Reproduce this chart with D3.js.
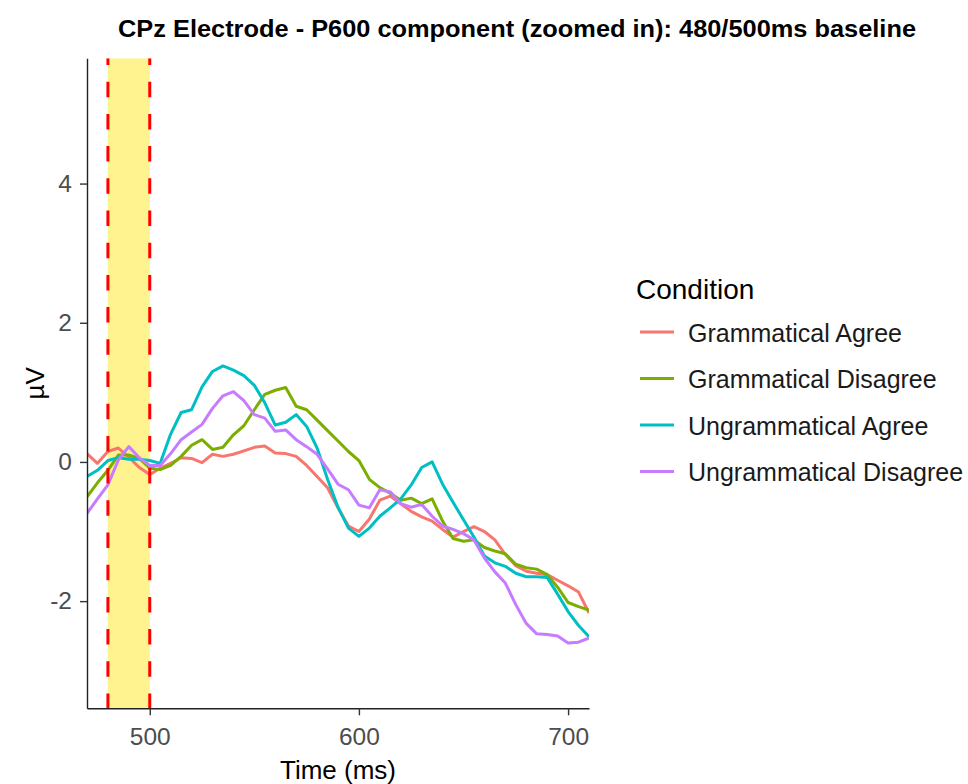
<!DOCTYPE html>
<html>
<head>
<meta charset="utf-8">
<script src="https://cdn.jsdelivr.net/npm/d3@7"></script>
<style>
  html, body { margin: 0; padding: 0; background: #fff; }
  svg { display: block; }
  text { font-family: "Liberation Sans", Arial, sans-serif; }
</style>
</head>
<body>
<svg id="chart" width="968" height="784"></svg>
<script>
// Sample times (ms) shared by all four grand-average waveforms
const times = [470, 475, 480, 485, 490, 495, 500, 505, 510, 515, 520, 525, 530, 535, 540, 545,
  550, 555, 560, 565, 570, 575, 580, 585, 590, 595, 600, 605, 610, 615, 620, 625, 630, 635,
  640, 645, 650, 655, 660, 665, 670, 675, 680, 685, 690, 695, 700, 705, 710];

// Mean amplitude (µV) per condition at CPz
const grammaticalAgree = [0.12, -0.02, 0.15, 0.20, 0.07, -0.08, -0.18, -0.09, -0.02, 0.06, 0.05, -0.01,
  0.11, 0.08, 0.11, 0.16, 0.21, 0.23, 0.13, 0.12, 0.08, -0.05, -0.21, -0.37, -0.66, -0.92, -1.00,
  -0.82, -0.55, -0.49, -0.60, -0.71, -0.79, -0.85, -0.97, -1.08, -1.00, -0.93, -1.00, -1.12, -1.33,
  -1.49, -1.57, -1.60, -1.62, -1.70, -1.78, -1.87, -2.17];
const grammaticalDisagree = [-0.50, -0.30, -0.12, 0.10, 0.10, 0.05, -0.09, -0.11, -0.05, 0.08, 0.24,
  0.32, 0.18, 0.21, 0.39, 0.52, 0.75, 0.97, 1.03, 1.07, 0.80, 0.75, 0.60, 0.45, 0.30, 0.15, 0.02,
  -0.25, -0.37, -0.45, -0.55, -0.52, -0.60, -0.53, -0.85, -1.10, -1.14, -1.12, -1.23, -1.28, -1.32,
  -1.47, -1.52, -1.54, -1.62, -1.80, -2.02, -2.08, -2.13];
const ungrammaticalAgree = [-0.21, -0.12, 0.02, 0.06, 0.04, 0.04, 0.02, -0.02, 0.40, 0.71, 0.75, 1.08,
  1.30, 1.38, 1.32, 1.24, 1.10, 0.85, 0.53, 0.57, 0.68, 0.51, 0.20, -0.25, -0.65, -0.95, -1.07,
  -0.95, -0.78, -0.66, -0.53, -0.33, -0.08, 0.00, -0.32, -0.58, -0.83, -1.08, -1.35, -1.45, -1.50,
  -1.60, -1.65, -1.65, -1.66, -1.90, -2.15, -2.35, -2.51];
const ungrammaticalDisagree = [-0.74, -0.53, -0.33, 0.03, 0.22, 0.06, -0.05, -0.05, 0.12, 0.32, 0.43,
  0.54, 0.77, 0.95, 1.01, 0.88, 0.68, 0.63, 0.44, 0.46, 0.32, 0.22, 0.11, -0.10, -0.32, -0.40, -0.62,
  -0.66, -0.40, -0.43, -0.60, -0.65, -0.61, -0.78, -0.92, -0.97, -1.03, -1.12, -1.38, -1.58, -1.74,
  -2.05, -2.32, -2.47, -2.48, -2.50, -2.60, -2.59, -2.53];

const conditions = ["Grammatical Agree", "Grammatical Disagree", "Ungrammatical Agree", "Ungrammatical Disagree"];
const colors = ["#F8766D", "#7CAE00", "#00BFC4", "#C77CFF"];
const seriesValues = [grammaticalAgree, grammaticalDisagree, ungrammaticalAgree, ungrammaticalDisagree];

const xTicks = [500, 600, 700];
const yTicks = [-2, 0, 2, 4];
const baselineWindow = [480, 500];
const xDomain = [470, 710];
const yDomain = [-3.54, 5.80];

const titleText = "CPz Electrode - P600 component (zoomed in): 480/500ms baseline";

const svg = d3.select("#chart");
svg.append("rect").attr("width", 968).attr("height", 784).attr("fill", "#fff");

const panel = { left: 87, right: 589, top: 58.3, bottom: 708.3 };
const x = d3.scaleLinear().domain(xDomain).range([panel.left, panel.right]);
const y = d3.scaleLinear().domain(yDomain).range([panel.bottom, panel.top]);

svg.append("defs").append("clipPath").attr("id", "panel-clip")
  .append("rect")
  .attr("x", panel.left).attr("y", panel.top)
  .attr("width", panel.right - panel.left).attr("height", panel.bottom - panel.top);

const plot = svg.append("g").attr("clip-path", "url(#panel-clip)");

// Baseline window shading
plot.append("rect")
  .attr("x", x(baselineWindow[0]))
  .attr("y", panel.top)
  .attr("width", x(baselineWindow[1]) - x(baselineWindow[0]))
  .attr("height", panel.bottom - panel.top)
  .attr("fill", "#FFF38F");

// Waveforms
const line = d3.line()
  .x((d, i) => x(times[i]))
  .y(d => y(d));

seriesValues.forEach((vals, k) => {
  plot.append("path")
    .datum(vals)
    .attr("d", line)
    .attr("fill", "none")
    .attr("stroke", colors[k])
    .attr("stroke-width", 3)
    .attr("stroke-linejoin", "round");
});

// Dashed markers at the window edges
baselineWindow.forEach(t => {
  plot.append("line")
    .attr("x1", x(t)).attr("x2", x(t))
    .attr("y1", panel.top).attr("y2", panel.bottom)
    .attr("stroke", "#FF0000")
    .attr("stroke-width", 3)
    .attr("stroke-dasharray", "15.5,16.7")
    .attr("stroke-dashoffset", 8.8);
});

// Axes
const plainNumber = d => String(d);
const styleAxis = g => {
  g.select(".domain").attr("stroke", "#222").attr("stroke-width", 1.4);
  g.selectAll(".tick line").attr("stroke", "#333").attr("stroke-width", 1.4);
  g.selectAll(".tick text")
    .attr("fill", "#4D4D4D")
    .style("font-size", "24.5px")
    .style("font-family", "'Liberation Sans', Arial, sans-serif");
};

svg.append("g")
  .attr("transform", `translate(0,${panel.bottom})`)
  .call(d3.axisBottom(x).tickValues(xTicks).tickSize(7).tickSizeOuter(0).tickPadding(12).tickFormat(plainNumber))
  .call(styleAxis);

svg.append("g")
  .attr("transform", `translate(${panel.left},0)`)
  .call(d3.axisLeft(y).tickValues(yTicks).tickSize(7).tickSizeOuter(0).tickPadding(8).tickFormat(plainNumber))
  .call(styleAxis);

// Axis titles
svg.append("text")
  .attr("x", (panel.left + panel.right) / 2)
  .attr("y", 779)
  .attr("text-anchor", "middle")
  .style("font-size", "26px")
  .attr("fill", "#000")
  .text("Time (ms)");

svg.append("text")
  .attr("transform", `translate(44,${(panel.top + panel.bottom) / 2}) rotate(-90)`)
  .attr("text-anchor", "middle")
  .style("font-size", "26px")
  .attr("fill", "#000")
  .text("µV");

// Title
svg.append("text")
  .attr("x", 118)
  .attr("y", 37)
  .attr("textLength", 798)
  .attr("lengthAdjust", "spacingAndGlyphs")
  .style("font-family", "'Liberation Sans Narrow', 'Liberation Sans', Arial, sans-serif")
  .style("font-weight", "bold")
  .style("font-size", "23.5px")
  .attr("fill", "#000")
  .text(titleText);

// Legend
const legend = svg.append("g");
legend.append("text")
  .attr("x", 636).attr("y", 299)
  .style("font-size", "28px")
  .attr("fill", "#000")
  .text("Condition");

const keyY = d3.scalePoint().domain(conditions).range([332, 471.5]);
conditions.forEach((c, k) => {
  legend.append("line")
    .attr("x1", 640).attr("x2", 674)
    .attr("y1", keyY(c)).attr("y2", keyY(c))
    .attr("stroke", colors[k]).attr("stroke-width", 3);
  legend.append("text")
    .attr("x", 688).attr("y", keyY(c) + 9.5)
    .style("font-size", "25px")
    .attr("fill", "#1a1a1a")
    .text(c);
});
</script>
</body>
</html>
